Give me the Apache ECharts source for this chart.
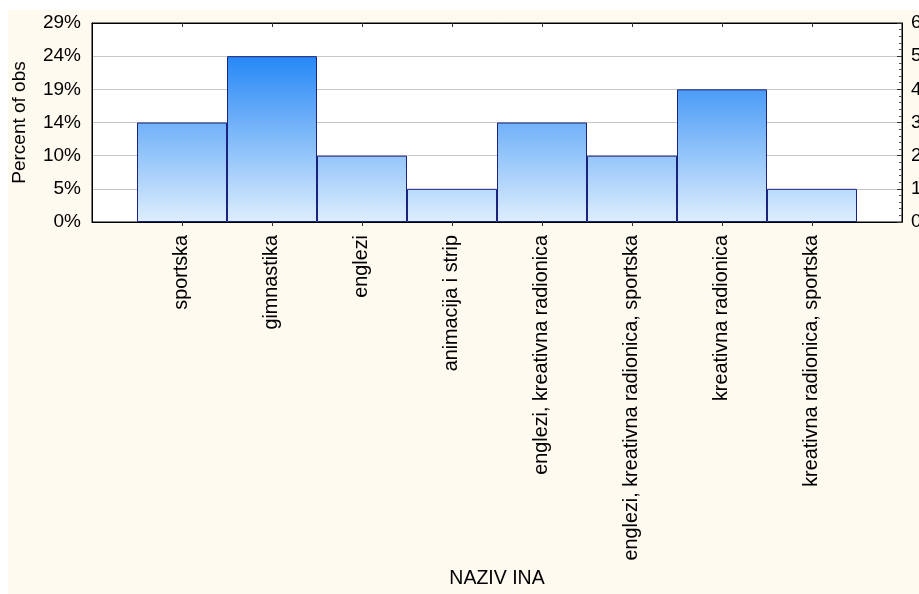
<!DOCTYPE html>
<html><head><meta charset="utf-8">
<script src="https://cdn.jsdelivr.net/npm/echarts@6/dist/echarts.min.js"></script>
<style>html,body{margin:0;padding:0;background:#fff;overflow:hidden}#c{position:absolute;left:8px;top:10px;width:911px;height:584px;}</style>
</head><body><div id="c"></div>
<script>
const categories = ['sportska','gimnastika','englezi','animacija i strip','englezi, kreativna radionica','englezi, kreativna radionica, sportska','kreativna radionica','kreativna radionica, sportska'];
const counts = [3,5,2,1,3,2,4,1];
const percentTickLabels = ['0%','5%','10%','14%','19%','24%','29%'];
const countTickLabels = ['0','1','2','3','4','5','6'];
const xName = 'NAZIV INA';
const yName = 'Percent of obs';

const FONT = '"Liberation Sans", Arial, sans-serif';
const LIGHT = [222,238,253], DARK = [38,136,246];
function mix(t){ return 'rgb(' + LIGHT.map((l,i)=>Math.round(l+(DARK[i]-l)*t)).join(',') + ')'; }
const maxCount = Math.max(...counts);
const positions = categories.map((_, i) => i + 1);
const barData = counts.map((c, i) => ({
  value: [positions[i], c],
  itemStyle: { color: new echarts.graphic.LinearGradient(0,0,0,1,[{offset:0,color:mix(c/maxCount)},{offset:1,color:mix(0)}]) }
}));
const yMax = countTickLabels.length - 1;

const chart = echarts.init(document.getElementById('c'), null, {renderer:'canvas'});
chart.setOption({
  animation: false,
  backgroundColor: '#fefaf0',
  grid: { left: 84, right: 17, top: 13, bottom: 372, outerBoundsMode: 'none', containLabel: false, show: true, backgroundColor: '#ffffff', borderColor: '#000', borderWidth: 1 },
  xAxis: [{
    type: 'value', min: 0, max: categories.length + 1, interval: 1, position: 'bottom',
    name: xName, nameLocation: 'middle', nameGap: 347,
    nameTextStyle: { fontFamily: FONT, fontSize: 19.5, color: '#000' },
    axisLine: { show: true, onZero: false, lineStyle: { color: '#000', width: 1 } },
    axisTick: { show: true, inside: false, length: 4, customValues: positions, lineStyle: { color: '#333' } },
    axisLabel: { show: true, rotate: 90, margin: 13, customValues: positions, fontFamily: FONT, fontSize: 19.8, color: '#000',
      formatter: v => categories[Math.round(v) - 1] || '' },
    splitLine: { show: false }
  }, {
    type: 'value', min: 0, max: categories.length + 1, interval: 1, position: 'top',
    axisLine: { show: true, onZero: false, lineStyle: { color: '#000' } },
    axisTick: { show: true, inside: true, length: 4, customValues: positions, lineStyle: { color: '#333' } },
    axisLabel: { show: false },
    splitLine: { show: false }
  }],
  yAxis: [{
    type: 'value', min: 0, max: yMax, interval: 1, position: 'left',
    name: yName, nameLocation: 'middle', nameGap: 63,
    nameTextStyle: { fontFamily: FONT, fontSize: 19, color: '#000' },
    axisLine: { show: true, onZero: false, lineStyle: { color: '#000' } },
    axisTick: { show: false },
    minorTick: { show: false },
    axisLabel: { margin: 11, fontFamily: FONT, fontSize: 19, color: '#000', formatter: v => percentTickLabels[Math.round(v)] },
    splitLine: { show: true, lineStyle: { color: '#c8c8c8', width: 1 } }
  }, {
    type: 'value', min: 0, max: yMax, interval: 1, position: 'right',
    axisLine: { show: true, onZero: false, lineStyle: { color: '#000' } },
    axisTick: { show: true, inside: true, length: 5, lineStyle: { color: '#333' } },
    minorTick: { show: true, splitNumber: 5, length: 3, lineStyle: { color: '#555' } },
    axisLabel: { margin: 9, fontFamily: FONT, fontSize: 19, color: '#000', formatter: v => countTickLabels[Math.round(v)] },
    splitLine: { show: false }
  }],
  series: [{
    type: 'bar', xAxisIndex: 0, yAxisIndex: 1,
    data: barData,
    barWidth: '100%',
    itemStyle: { borderColor: '#1a237e', borderWidth: 1 }
  }]
});
</script></body></html>
